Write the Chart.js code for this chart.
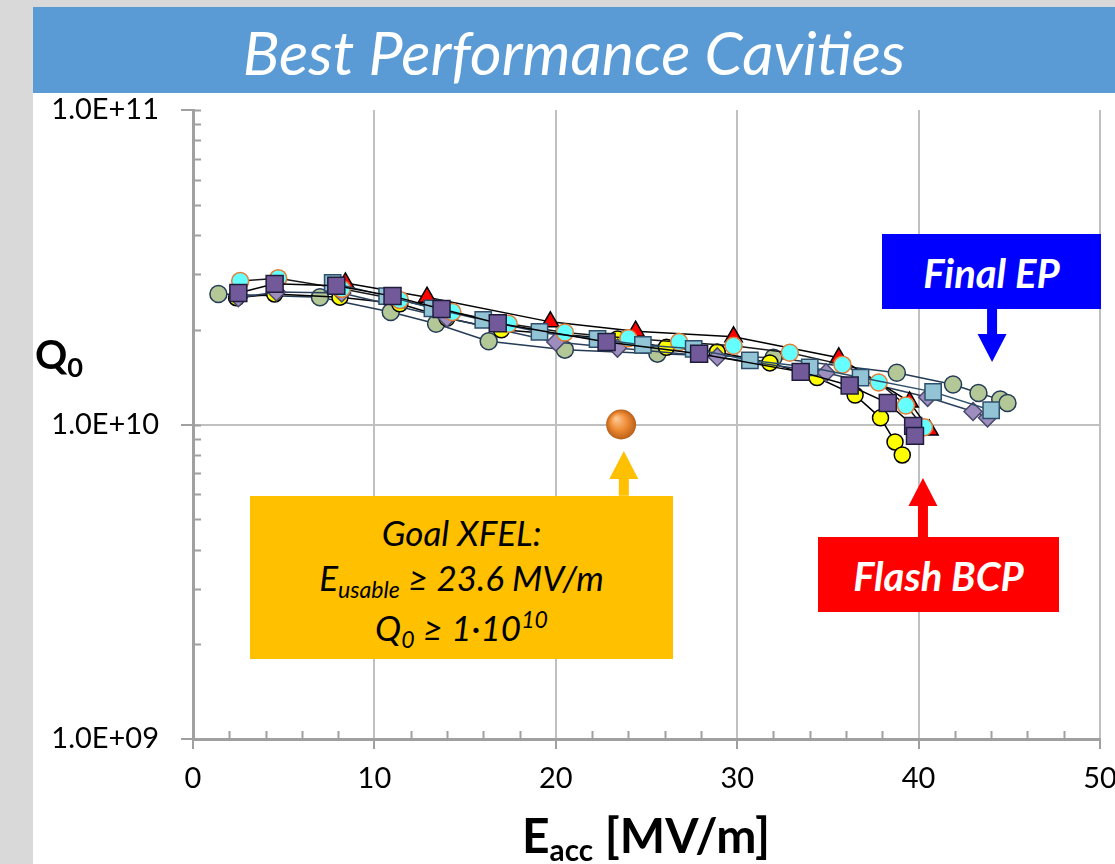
<!DOCTYPE html>
<html>
<head>
<meta charset="utf-8">
<title>Best Performance Cavities</title>
<script src="https://cdn.jsdelivr.net/npm/chart.js@4.4.0/dist/chart.umd.min.js"></script>
<style>
  html, body { margin: 0; padding: 0; }
  body { width: 1115px; height: 864px; background: #d9d9d9; position: relative; overflow: hidden; font-family: Lato, sans-serif; }
  #panel { position: absolute; left: 33px; top: 7px; width: 1082px; height: 857px; background: #fff; }
  #title { position: absolute; left: 33px; top: 7px; width: 1082px; height: 86px; background: #5b9bd5; color: #fff;
           font-style: italic; font-size: 61px; text-align: center; line-height: 90px; overflow: hidden; }
  #chart { position: absolute; left: 0; top: 0; }
  .axt { position: absolute; font-weight: bold; color: #000; white-space: nowrap; }
  .axt sub { font-size: 0.62em; vertical-align: baseline; position: relative; top: 0.28em; }
  #q0 sub { font-size: 0.68em; }
  .box { position: absolute; text-align: center; white-space: nowrap; }
  #goal { left: 250px; top: 496px; width: 423px; height: 163px; background: #ffc000; color: #000;
          font-style: italic; font-size: 35px; line-height: 45px; box-sizing: border-box; padding-top: 14px; }
  #goal sub, #goal sup { font-size: 0.66em; position: relative; vertical-align: baseline; }
  #goal sub { top: 0.3em; }
  #goal sup { top: -0.55em; }
  #ep  { left: 882px; top: 234px; width: 219px; height: 75px; background: #0000ff; }
  #bcp { left: 818px; top: 537px; width: 241px; height: 75px; background: #ff0000; }
  #ep, #bcp { color: #fff; font-weight: bold; font-style: italic; font-size: 40px; line-height: 78px; }
</style>
</head>
<body>
<div id="panel"></div>
<div id="title">Best Performance Cavities</div>
<canvas id="chart" width="1115" height="864"></canvas>
<div class="axt" id="q0" style="left:35px; top:330px; font-size:40px;">Q<sub>0</sub></div>
<div class="axt" style="left:522px; top:806px; font-size:48px;">E<sub>acc</sub> [MV/m]</div>
<div class="box" id="goal">Goal XFEL:<br>E<sub>usable</sub> ≥ 23.6 MV/m<br>Q<sub>0</sub> ≥ 1·10<sup>10</sup></div>
<div class="box" id="ep">Final EP</div>
<div class="box" id="bcp">Flash BCP</div>

<script>
/* ─── Axis ranges ─────────────────────────────────────────── */
const X_MIN = 0, X_MAX = 50, X_STEP = 10, X_MINOR = 2;
const Y_TICKS = [1e9, 1e10, 1e11];

/* ─── Data (Eacc in MV/m, Q0) ─────────────────────────────── */
const purpleE = [2.5, 4.5, 7.9, 11.0, 13.7, 16.8, 22.8, 27.9, 33.5, 36.2, 38.3, 39.7, 39.8];
const purpleQ = [2.62e10, 2.80e10, 2.76e10, 2.56e10, 2.33e10, 2.10e10, 1.83e10, 1.68e10, 1.47e10, 1.33e10, 1.17e10, 9.9e9, 9.2e9];

const blueE = [7.7, 10.7, 13.2, 16.0, 19.1, 22.3, 24.8, 27.6, 30.7, 34.0, 36.8, 40.8, 44.0];
const blueQ = [2.82e10, 2.56e10, 2.34e10, 2.15e10, 1.97e10, 1.87e10, 1.79e10, 1.74e10, 1.60e10, 1.52e10, 1.41e10, 1.27e10, 1.11e10];

const cyanE = [2.6, 4.7, 8.2, 11.4, 14.3, 17.4, 20.5, 24.0, 26.8, 29.8, 32.9, 35.8, 37.8, 39.3, 40.3];
const cyanQ = [2.86e10, 2.92e10, 2.70e10, 2.49e10, 2.28e10, 2.09e10, 1.96e10, 1.88e10, 1.83e10, 1.78e10, 1.69e10, 1.55e10, 1.36e10, 1.15e10, 9.8e9];

const redE = [8.4, 12.9, 19.7, 24.4, 29.8, 35.6, 39.5, 40.6];
const redQ = [2.82e10, 2.54e10, 2.12e10, 1.98e10, 1.90e10, 1.63e10, 1.18e10, 9.6e9];

const diamE = [2.5, 4.6, 8.2, 14.0, 20.0, 23.4, 28.9, 34.9, 40.5, 43.0, 43.8];
const diamQ = [2.53e10, 2.64e10, 2.62e10, 2.18e10, 1.83e10, 1.75e10, 1.64e10, 1.46e10, 1.22e10, 1.10e10, 1.05e10];

const yellowE = [2.4, 4.5, 8.1, 11.4, 14.0, 17.0, 23.4, 26.1, 28.9, 31.8, 34.4, 36.5, 37.9, 38.7, 39.1];
const yellowQ = [2.53e10, 2.60e10, 2.54e10, 2.42e10, 2.18e10, 2.00e10, 1.87e10, 1.76e10, 1.70e10, 1.57e10, 1.41e10, 1.24e10, 1.05e10, 8.8e9, 8.0e9];

const greenE = [1.4, 7.0, 10.9, 13.4, 16.3, 20.5, 25.6, 32.0, 38.8, 41.9, 43.3, 44.5, 44.9];
const greenQ = [2.60e10, 2.54e10, 2.28e10, 2.09e10, 1.84e10, 1.73e10, 1.68e10, 1.63e10, 1.46e10, 1.34e10, 1.26e10, 1.20e10, 1.17e10];

/* goal point + arrows (data coords: x, tipQ, baseQ) */
const GOAL = { x: 23.6, q: 1e10 };
const ARROWS = [
  { x: 23.75, tip: 8.24e9, base: 5.93e9, color: '#ffc000' },
  { x: 44.05, tip: 1.58e10, base: 2.35e10, color: '#0000ff' },
  { x: 40.24, tip: 6.76e9, base: 4.39e9, color: '#ff0000' },
];

/* ─── Helpers ─────────────────────────────────────────────── */
const zip = (xs, ys) => xs.map((x, i) => ({ x, y: ys[i] }));

function series(xs, ys, style) {
  return Object.assign({
    data: zip(xs, ys),
    showLine: true,
    borderWidth: 1.5,
    pointBorderWidth: 1.5,
    tension: 0,
  }, style);
}

function sci(v) {
  const e = Math.round(Math.log10(v));
  const m = (v / Math.pow(10, e)).toFixed(1);
  return m + 'E' + (e < 0 ? '-' : '+') + String(Math.abs(e)).padStart(2, '0');
}

/* ─── Decorations: minor ticks, arrows, goal ball ─────────── */
const decor = {
  id: 'decor',
  beforeDatasetsDraw(chart) {
    const { ctx, scales: { x, y }, chartArea: a } = chart;
    ctx.save();
    ctx.strokeStyle = '#a0a0a0';
    ctx.lineWidth = 2;
    ctx.beginPath();
    for (let d = 9; d < 11; d++) {
      for (let k = 2; k <= 9; k++) {
        const py = Math.round(y.getPixelForValue(k * Math.pow(10, d))) + 0.5;
        ctx.moveTo(a.left, py); ctx.lineTo(a.left + 8, py);
      }
    }
    for (const v of Y_TICKS) {
      const py = Math.round(y.getPixelForValue(v)) + 0.5;
      ctx.moveTo(a.left, py); ctx.lineTo(a.left + 8, py);
    }
    for (let v = X_MIN; v <= X_MAX; v += X_MINOR) {
      if (v % X_STEP === 0) continue;
      const px = Math.round(x.getPixelForValue(v)) + 0.5;
      ctx.moveTo(px, a.bottom); ctx.lineTo(px, a.bottom - 8);
    }
    ctx.stroke();
    ctx.restore();
  },
  afterDraw(chart) {
    const { ctx, scales: { x, y } } = chart;
    ctx.save();
    ARROWS.forEach(ar => {
      const cx = x.getPixelForValue(ar.x);
      const tip = y.getPixelForValue(ar.tip);
      const base = y.getPixelForValue(ar.base);
      const dir = Math.sign(base - tip);
      const head = 28 * dir, hw = 14.5, sw = 5;
      ctx.fillStyle = ar.color;
      ctx.beginPath();
      ctx.moveTo(cx, tip);
      ctx.lineTo(cx + hw, tip + head);
      ctx.lineTo(cx + sw, tip + head);
      ctx.lineTo(cx + sw, base);
      ctx.lineTo(cx - sw, base);
      ctx.lineTo(cx - sw, tip + head);
      ctx.lineTo(cx - hw, tip + head);
      ctx.closePath();
      ctx.fill();
    });
    const gx = x.getPixelForValue(GOAL.x), gy = y.getPixelForValue(GOAL.q);
    const g = ctx.createRadialGradient(gx - 5, gy - 6, 1, gx, gy, 15);
    g.addColorStop(0, '#fcc690');
    g.addColorStop(0.55, '#ee8a32');
    g.addColorStop(1, '#b8601a');
    ctx.fillStyle = g;
    ctx.beginPath();
    ctx.arc(gx, gy, 15, 0, Math.PI * 2);
    ctx.fill();
    ctx.restore();
  },
};

/* ─── Chart ───────────────────────────────────────────────── */
Chart.defaults.font.family = 'Lato, sans-serif';

new Chart(document.getElementById('chart'), {
  type: 'scatter',
  data: {
    datasets: [
      series(purpleE, purpleQ, { pointStyle: 'rect', pointRadius: 12, backgroundColor: '#72599a', borderColor: '#000', pointBorderColor: '#1e1e3c' }),
      series(blueE, blueQ, { pointStyle: 'rect', pointRadius: 11.5, backgroundColor: '#93c4d6', borderColor: '#2e4f6b', pointBorderColor: '#2e4f6b' }),
      series(cyanE, cyanQ, { pointStyle: 'circle', pointRadius: 8.5, backgroundColor: '#66ffff', borderColor: '#1a1a1a', pointBorderColor: '#e47d37' }),
      series(redE, redQ, { pointStyle: 'triangle', pointRadius: 10, backgroundColor: '#ff0000', borderColor: '#000', pointBorderColor: '#000' }),
      series(diamE, diamQ, { pointStyle: 'rectRot', pointRadius: 9, backgroundColor: '#9d8ebf', borderColor: '#2b3f5c', pointBorderColor: '#49496a' }),
      series(yellowE, yellowQ, { pointStyle: 'circle', pointRadius: 8, backgroundColor: '#ffff00', borderColor: '#000', pointBorderColor: '#000' }),
      series(greenE, greenQ, { pointStyle: 'circle', pointRadius: 8.5, backgroundColor: '#b3c797', borderColor: '#243b55', pointBorderColor: '#243b55' }),
    ],
  },
  options: {
    responsive: false,
    animation: false,
    events: [],
    layout: { padding: { left: 0, top: 110, right: 15, bottom: 0 } },
    plugins: { legend: { display: false }, tooltip: { enabled: false } },
    scales: {
      x: {
        type: 'linear',
        min: X_MIN, max: X_MAX,
        ticks: { stepSize: X_STEP, color: '#000', font: { size: 29 }, padding: 12, maxRotation: 0 },
        grid: {
          color: c => (c.tick && c.tick.value === X_MIN) ? 'rgba(0,0,0,0)' : '#c0c0c0',
          lineWidth: 2, tickLength: 10, tickColor: '#a0a0a0', tickWidth: 2,
        },
        border: { color: '#a0a0a0', width: 3 },
        afterFit: s => { s.height = 125; s.paddingLeft = 0; s.paddingRight = 0; },
      },
      y: {
        type: 'logarithmic',
        min: Y_TICKS[0], max: Y_TICKS[Y_TICKS.length - 1],
        afterBuildTicks: s => { s.ticks = Y_TICKS.map(v => ({ value: v })); },
        ticks: { callback: v => sci(v), color: '#000', font: { size: 29 }, padding: 22 },
        grid: {
          color: c => (c.tick && c.tick.value === 1e10) ? '#c0c0c0' : 'rgba(0,0,0,0)',
          lineWidth: 2, tickLength: 12, tickColor: '#a0a0a0', tickWidth: 2,
        },
        border: { color: '#a0a0a0', width: 3 },
        afterFit: s => { s.width = 193; s.paddingTop = 0; s.paddingBottom = 0; },
      },
    },
  },
  plugins: [decor],
});
</script>
</body>
</html>
